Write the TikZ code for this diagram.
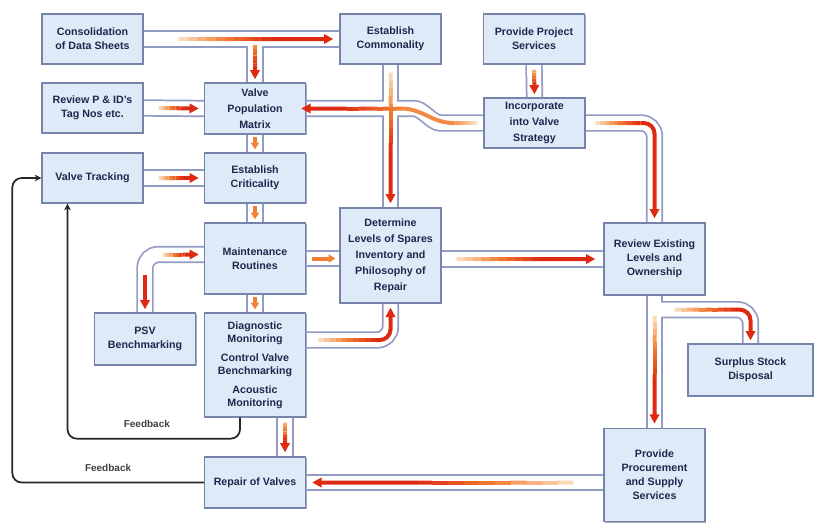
\documentclass[tikz,border=0pt]{standalone}
\usepackage{fontspec}
\setmainfont{Liberation Sans}
\usetikzlibrary{arrows.meta,calc,positioning,shadows}
\definecolor{BoxFill}{RGB}{222,234,248}
\definecolor{BoxEdge}{RGB}{118,132,172}
\definecolor{BoxText}{RGB}{30,40,76}
\definecolor{PipeEdge}{RGB}{146,156,194}
\definecolor{FlowRed}{RGB}{222,42,18}
\definecolor{FlowOrange}{RGB}{242,128,52}
\definecolor{FlowPale}{RGB}{252,228,200}
\pgfdeclarelayer{pipes}
\pgfsetlayers{pipes,main}
% colour run along a straight piece: pale -> orange -> red
\NewDocumentCommand{\fade}{O{0} O{100} m m}{%
  \path (#3) coordinate (fs) (#4) coordinate (fe);
  \foreach \k in {0,...,9}{%
    \pgfmathtruncatemacro{\tint}{#1+(#2-#1)*(\k+0.5)/10}%
    \ifnum\tint<50
      \pgfmathtruncatemacro{\tmix}{2*\tint}\def\tcol{FlowOrange!\tmix!FlowPale}%
    \else
      \pgfmathtruncatemacro{\tmix}{2*\tint-100}\def\tcol{FlowRed!\tmix!FlowOrange}%
    \fi
    \draw[flowline,draw=\tcol] ($(fs)!\k/10!(fe)$) -- ($(fs)!\k/10+0.105!(fe)$);}}
\NewDocumentCommand{\flow}{O{0} m m}{%
  \path (#2) coordinate (f1) (#3) coordinate (f2);
  \path ($(f1)!0.6!(f2)$) coordinate (f3);
  \fade[#1][100]{f1}{f3}
  \draw[flowhead] (f3) -- (f2);}
% the white ducts between the boxes
\newcommand{\allpipes}[1]{%
  \draw[#1] (cons.east) -- (comm.west);
  \draw[#1] (vpm.north) -- (vpm.north |- cons.east);
  \draw[#1] (pid.east) -- (vpm.west);
  \draw[#1] (comm.south) -- (det.north);
  \draw[#1] (inc.west) -- ++(-30,0) to[out=180,in=0] ($(vpm.east)+(95,0)$) -- (vpm.east);
  \draw[#1] (proj.south) -- (inc.north);
  \draw[#1] (inc.east) -| (rev.north);
  \draw[#1] (vpm.south) -- (crit.north);
  \draw[#1] (track.east) -- (crit.west);
  \draw[#1] (crit.south) -- (maint.north);
  \draw[#1] (maint.east) -- (maint.east -| det.west);
  \draw[#1] (rev.west -| det.east) -- (rev.west);
  \draw[#1] (psv.north) |- ($(maint.west)+(0,-4)$);
  \draw[#1] (maint.south) -- (diag.north);
  \draw[#1] ($(diag.east)+(0,-25)$) -| (det.south);
  \draw[#1] ($(diag.south)+(30,0)$) -- ($(repair.north)+(30,0)$);
  \draw[#1] (rev.south) -- (proc.north);
  \draw[#1] ($(rev.south)+(0,14)$) -| (surp.north);
  \draw[#1] (proc.west |- repair.east) -- (repair.east);}

\begin{document}
\begin{tikzpicture}[x=0.75pt,y=-0.75pt,
  box/.style={draw=BoxEdge,fill=BoxFill,line width=1pt,text=BoxText,
    font=\fontsize{8}{10.5}\selectfont\bfseries,align=center,inner sep=1pt,
    minimum width=75.75pt,minimum height=37.5pt,
    drop shadow={shadow xshift=0.8pt,shadow yshift=-0.8pt,fill=BoxEdge!70,opacity=1}},
  tall/.style={font=\fontsize{8}{12}\selectfont\bfseries},
  pipeout/.style={draw=PipeEdge,line width=13pt,rounded corners=10pt},
  pipein/.style={draw=white,line width=10.4pt,rounded corners=10pt},
  flowline/.style={line width=3pt},
  flowhead/.style={flowline,draw=FlowRed,-{Triangle[length=7pt,width=7pt]},rounded corners=8pt},
  stub/.style={flowhead,draw=FlowOrange,-{Triangle[length=5pt,width=6pt]}},
  feedback/.style={draw=black!85,line width=1.3pt,rounded corners=7pt,-{Stealth[length=5pt,width=5pt]}},
  fbtext/.style={text=black!75,font=\fontsize{7.5}{8}\selectfont\bfseries}]
  \useasboundingbox (0,0) rectangle (814,522);

  \node[box] (cons) at (92.5,39) {Consolidation\\of Data Sheets};
  \node[box] (comm) at (390.5,39) {Establish\\Commonality};
  \node[box] (proj) at (534,39) {Provide Project\\Services};
  \node[box] (pid) at (92.5,108) {Review P \& ID's\\Tag Nos etc.};
  \node[box,tall,minimum height=38.25pt] (vpm) at (255,108.5) {Valve\\Population\\Matrix};
  \node[box,tall] (inc) at (534.5,123) {Incorporate\\into Valve\\Strategy};
  \node[box] (track) at (92.5,178) {Valve Tracking};
  \node[box] (crit) at (255,178) {Establish\\Criticality};
  \node[box,minimum height=53.25pt] (maint) at (255,258.5) {Maintenance\\Routines};
  \node[box,tall,minimum height=71.25pt] (det) at (390.5,255.5) {Determine\\Levels of Spares\\Inventory and\\Philosophy of\\Repair};
  \node[box,minimum height=54pt] (rev) at (654.5,259) {Review Existing\\Levels and\\Ownership};
  \node[box,minimum height=39pt] (psv) at (145,339) {PSV\\Benchmarking};
  \node[box,minimum height=78pt,font=\fontsize{8}{10}\selectfont\bfseries] (diag) at (255,365)
    {Diagnostic\\Monitoring\\[4pt]Control Valve\\Benchmarking\\[4pt]Acoustic\\Monitoring};
  \node[box,minimum width=93.75pt,minimum height=39pt] (surp) at (750.5,370) {Surplus Stock\\Disposal};
  \node[box,minimum height=38.25pt] (repair) at (255,482.5) {Repair of Valves};
  \node[box,minimum height=70pt] (proc) at (654.5,475) {Provide\\Procurement\\and Supply\\Services};

  \begin{pgfonlayer}{pipes}
    \allpipes{pipeout}
    \allpipes{pipein}
  \end{pgfonlayer}

  % flows inside the ducts
  \flow{$(cons.east)+(35,0)$}{$(comm.west)+(-6,0)$}
  \flow[40]{$(vpm.north |- cons.east)+(0,6)$}{$(vpm.north)+(0,-3)$}
  \flow{$(pid.east)+(15,0)$}{$(vpm.west)+(-5,0)$}
  \flow{$(comm.south)+(0,8)$}{$(det.north)+(0,-4)$}
  \fade[0][45]{$(inc.west)+(-6,0)$}{$(inc.west)+(-30,0)$}
  \draw[flowline,draw=FlowOrange!90!FlowPale] ($(inc.west)+(-30,0)$) to[out=180,in=0] ($(vpm.east)+(95,0)$);
  \flow[50]{$(vpm.east)+(95,0)$}{$(vpm.east)+(-5,0)$}
  \flow[20]{$(proj.south)+(0,5)$}{$(inc.north)+(0,-3)$}
  \fade{$(inc.east)+(10,0)$}{$(rev.north |- inc.east)+(-14,0)$}
  \draw[flowhead] ($(rev.north |- inc.east)+(-14,0)$) -| ($(rev.north)+(0,-4)$);
  \draw[stub] ($(vpm.south)+(0,2)$) -- ($(crit.north)+(0,-3)$);
  \flow{$(track.east)+(15,0)$}{$(crit.west)+(-5,0)$}
  \draw[stub] ($(crit.south)+(0,2)$) -- ($(maint.north)+(0,-3)$);
  \draw[stub] ($(maint.east)+(6,0)$) -- ($(maint.east -| det.west)+(-4,0)$);
  \flow{$(rev.west -| det.east)+(15,0)$}{$(rev.west)+(-8,0)$}
  \flow{$(psv.north |- maint.west)+(18,-4)$}{$(maint.west)+(-5,-4)$}
  \draw[flowhead] ($(psv.north |- maint.west)+(0,16)$) -- ($(psv.north)+(0,-3)$);
  \draw[stub] ($(maint.south)+(0,2)$) -- ($(diag.north)+(0,-3)$);
  \fade{$(diag.east)+(12,-25)$}{$(det.south |- diag.east)+(-14,-25)$}
  \draw[flowhead] ($(det.south |- diag.east)+(-14,-25)$) -| ($(det.south)+(0,4)$);
  \flow[20]{$(diag.south)+(30,5)$}{$(repair.north)+(30,-4)$}
  \flow{$(rev.south)+(0,20)$}{$(proc.north)+(0,-4)$}
  \fade{$(rev.south)+(20,14)$}{$(surp.north |- rev.south)+(-14,14)$}
  \draw[flowhead] ($(surp.north |- rev.south)+(-14,14)$) -| ($(surp.north)+(0,-3)$);
  \flow{$(proc.west |- repair.east)+(-30,0)$}{$(repair.east)+(6,0)$}

  % feedback loops
  \draw[feedback] ($(diag.south)+(-15,0)$) -- ++(0,21)
    -| node[fbtext,pos=0.27,above=4pt] (fbone) {Feedback} ($(track.south)+(-25,0)$);
  \draw[feedback] (repair.west)
    -| node[fbtext,pos=0.25,above=4pt] (fbtwo) {Feedback} ($(track.west)+(-29,0)$) -- (track.west);
\end{tikzpicture}
\end{document}
